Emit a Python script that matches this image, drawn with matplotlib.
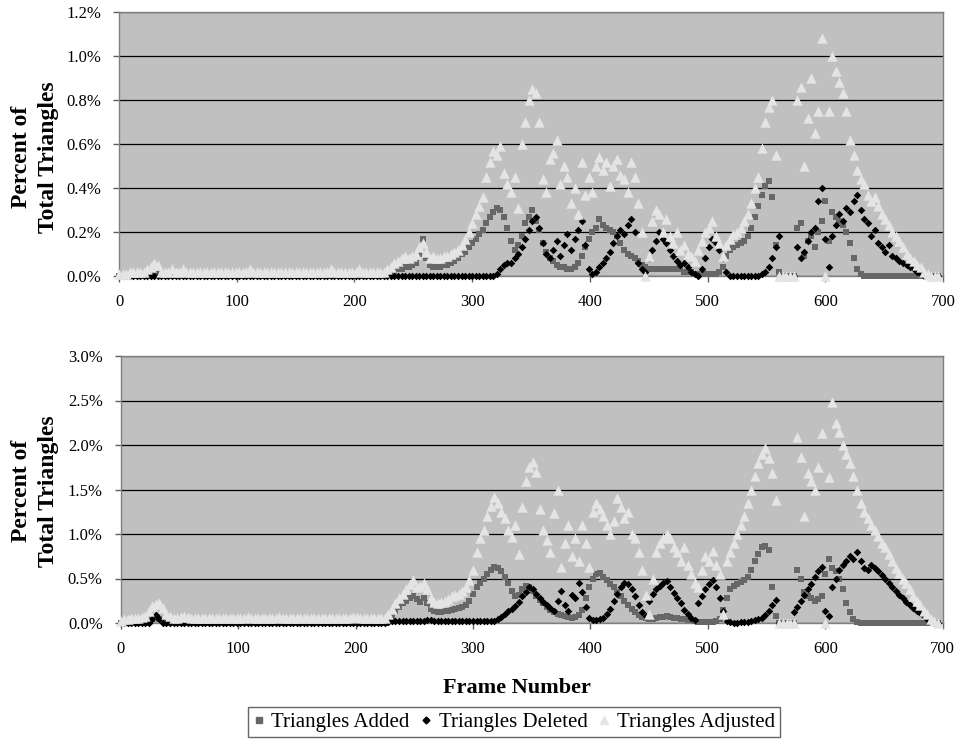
import numpy as np
import matplotlib
matplotlib.use('Agg')
import matplotlib.pyplot as plt
from matplotlib.lines import Line2D
from matplotlib.ticker import FuncFormatter, MultipleLocator

plt.rcParams['font.family'] = ['Liberation Serif', 'DejaVu Serif']

# frame numbers sampled every 3 frames (0..696)
frames = np.arange(0, 697, 3)

# ---- values in hundredths of a percent, one row = 10 samples (30 frames) ----
add_top = [
    0, 0, 0, 0, 0, 0, 0, 0, 0, 1,
    1, 1, 0, 0, 0, 0, 0, 0, 0, 0,
    0, 0, 0, 0, 0, 0, 0, 0, 0, 0,
    0, 0, 0, 0, 0, 0, 0, 0, 0, 0,
    0, 0, 0, 0, 0, 0, 0, 0, 0, 0,
    0, 0, 0, 0, 0, 0, 0, 0, 0, 0,
    0, 0, 0, 0, 0, 1, 0, 0, 0, 0,
    0, 0, 0, 0, 0, 0, 1, 2, 2, 3,
    3, 4, 4, 5, 6, 10, 17, 8, 5, 4,
    4, 4, 5, 5, 6, 7, 8, 10, 11, 13,
    15, 17, 19, 21, 24, 27, 29, 31, 30, 27,
    22, 16, 12, 14, 18, 24, 27, 30, 25, 21,
    15, 11, 8, 7, 5, 4, 4, 3, 3, 4,
    6, 9, 13, 17, 20, 22, 26, 23, 22, 21,
    20, 18, 15, 12, 10, 9, 8, 7, 5, 4,
    3, 3, 3, 3, 3, 3, 3, 3, 3, 3,
    2, 2, 2, 1, 1, 1, 1, 1, 1, 1,
    2, 4, 9, 12, 13, 14, 15, 16, 18, 22,
    27, 32, 37, 41, 43, 36, 14, 2, 0, 0,
    0, 0, 22, 24, 9, 16, 18, 13, 20, 25,
    34, 16, 29, 27, 25, 23, 20, 15, 8, 3,
    1, 0, 0, 0, 0, 0, 0, 0, 0, 0,
    0, 0, 0, 0, 0, 0, 0, 0, 0, 0,
    0, 0, 0]

del_top = [
    0, 0, 0, 0, 0, 0, 0, 0, 0, 0,
    0, 0, 0, 0, 0, 0, 0, 0, 0, 0,
    0, 0, 0, 0, 0, 0, 0, 0, 0, 0,
    0, 0, 0, 0, 0, 0, 0, 0, 0, 0,
    0, 0, 0, 0, 0, 0, 0, 0, 0, 0,
    0, 0, 0, 0, 0, 0, 0, 0, 0, 0,
    0, 0, 0, 0, 0, 0, 0, 0, 0, 0,
    0, 0, 0, 0, 0, 0, 0, 0, 0, 0,
    0, 0, 0, 0, 0, 0, 0, 0, 0, 0,
    0, 0, 0, 0, 0, 0, 0, 0, 0, 0,
    0, 0, 0, 0, 0, 0, 0, 1, 3, 5,
    6, 6, 8, 10, 13, 17, 21, 25, 27, 22,
    15, 10, 8, 12, 16, 9, 14, 19, 12, 17,
    21, 25, 14, 3, 1, 2, 4, 6, 8, 11,
    15, 18, 21, 19, 23, 26, 20, 6, 3, 2,
    8, 12, 16, 20, 17, 15, 12, 9, 7, 5,
    6, 4, 2, 1, 0, 3, 8, 13, 17, 15,
    12, 8, 2, 0, 0, 0, 0, 0, 0, 0,
    0, 0, 1, 2, 4, 8, 13, 18, 0, 0,
    0, 0, 13, 8, 11, 16, 20, 22, 34, 40,
    17, 4, 18, 23, 28, 25, 31, 29, 34, 37,
    30, 26, 24, 18, 21, 15, 13, 11, 14, 9,
    8, 7, 6, 5, 4, 3, 2, 1, 0, 0,
    0, 0, 0]

adj_top = [
    1, 1, 1, 2, 2, 2, 2, 2, 3, 4,
    6, 5, 2, 2, 2, 3, 2, 2, 3, 2,
    2, 2, 2, 2, 2, 2, 2, 2, 2, 2,
    2, 2, 2, 2, 2, 2, 2, 3, 2, 2,
    2, 2, 2, 2, 2, 2, 2, 2, 2, 2,
    2, 2, 2, 2, 2, 2, 2, 2, 2, 2,
    3, 2, 2, 2, 2, 2, 2, 2, 3, 2,
    2, 2, 2, 2, 2, 2, 3, 4, 6, 7,
    8, 9, 8, 9, 10, 13, 15, 11, 8, 9,
    8, 8, 9, 9, 10, 11, 12, 14, 17, 20,
    24, 28, 32, 36, 45, 52, 57, 55, 59, 47,
    42, 38, 45, 31, 60, 70, 80, 85, 83, 70,
    44, 38, 53, 56, 62, 42, 50, 45, 33, 40,
    28, 52, 37, 45, 38, 50, 54, 48, 52, 41,
    50, 53, 46, 44, 38, 52, 45, 33, 20, 0,
    9, 25, 30, 28, 20, 26, 18, 15, 20, 12,
    14, 10, 9, 7, 12, 16, 20, 22, 25, 18,
    15, 9, 14, 17, 19, 20, 22, 25, 28, 33,
    40, 45, 58, 70, 77, 80, 55, 0, 0, 0,
    0, 0, 80, 86, 50, 72, 90, 65, 75, 108,
    0, 75, 100, 93, 88, 83, 75, 62, 55, 48,
    44, 42, 37, 34, 36, 32, 28, 26, 23, 20,
    18, 16, 13, 10, 8, 7, 5, 4, 2, 1,
    0, 0, 0]

add_bot = [
    0, 0, 0, 0, 0, 0, 0, 0, 2, 5,
    7, 5, 2, 0, 0, 0, 0, 0, 0, 0,
    0, 0, 0, 0, 0, 0, 0, 0, 0, 0,
    0, 0, 0, 0, 0, 0, 0, 0, 0, 0,
    0, 0, 0, 0, 0, 0, 0, 0, 0, 0,
    0, 0, 0, 0, 0, 0, 0, 0, 0, 0,
    0, 0, 0, 0, 0, 0, 0, 0, 0, 0,
    0, 0, 0, 0, 0, 0, 3, 8, 14, 18,
    22, 25, 28, 30, 27, 24, 28, 22, 16, 13,
    12, 12, 13, 14, 15, 16, 17, 18, 20, 25,
    33, 40, 45, 50, 55, 60, 63, 62, 58, 52,
    45, 36, 30, 32, 38, 42, 40, 36, 30, 26,
    22, 18, 15, 12, 10, 9, 8, 7, 6, 7,
    9, 15, 28, 40, 50, 55, 56, 52, 48, 44,
    40, 35, 30, 25, 20, 16, 12, 9, 7, 6,
    5, 5, 6, 7, 7, 8, 7, 6, 6, 5,
    4, 3, 3, 2, 1, 1, 1, 1, 1, 2,
    5, 15, 28, 38, 42, 44, 46, 48, 52, 60,
    70, 78, 85, 86, 82, 40, 8, 0, 0, 0,
    0, 0, 60, 50, 35, 30, 28, 25, 27, 30,
    55, 72, 62, 58, 50, 38, 22, 12, 5, 1,
    0, 0, 0, 0, 0, 0, 0, 0, 0, 0,
    0, 0, 0, 0, 0, 0, 0, 0, 0, 0,
    0, 0, 0]

del_bot = [
    0, 0, 0, 0, 0, 0, 0, 0, 0, 4,
    9, 5, 0, 0, 0, 0, 0, 0, 0, 0,
    0, 0, 0, 0, 0, 0, 0, 0, 0, 0,
    0, 0, 0, 0, 0, 0, 0, 0, 0, 0,
    0, 0, 0, 0, 0, 0, 0, 0, 0, 0,
    0, 0, 0, 0, 0, 0, 0, 0, 0, 0,
    0, 0, 0, 0, 0, 0, 0, 0, 0, 0,
    0, 0, 0, 0, 0, 0, 1, 2, 2, 2,
    2, 2, 2, 2, 2, 2, 2, 3, 3, 2,
    2, 2, 2, 2, 2, 2, 2, 2, 2, 2,
    2, 2, 2, 2, 2, 2, 2, 4, 7, 10,
    13, 16, 19, 24, 30, 35, 40, 38, 33, 28,
    24, 20, 17, 13, 25, 36, 20, 14, 32, 28,
    45, 35, 18, 6, 3, 3, 4, 6, 10, 16,
    25, 33, 40, 45, 44, 38, 30, 20, 12, 8,
    25, 33, 38, 42, 45, 47, 40, 34, 28, 22,
    15, 10, 6, 3, 22, 30, 38, 44, 48, 40,
    28, 14, 2, 1, 0, 0, 1, 1, 1, 2,
    3, 4, 6, 9, 14, 20, 26, 0, 0, 0,
    0, 12, 18, 25, 32, 38, 44, 52, 58, 63,
    14, 8, 40, 50, 60, 65, 70, 75, 72, 80,
    70, 62, 60, 65, 62, 58, 54, 50, 45, 40,
    36, 32, 28, 24, 20, 17, 14, 11, 8, 5,
    2, 0, 0]

adj_bot = [
    2, 4, 5, 6, 6, 6, 7, 8, 14, 19,
    21, 22, 17, 10, 8, 6, 6, 7, 8, 7,
    6, 6, 6, 6, 6, 6, 6, 6, 6, 6,
    6, 6, 6, 6, 6, 6, 7, 6, 6, 6,
    6, 6, 6, 6, 6, 7, 6, 6, 6, 6,
    6, 6, 6, 6, 6, 6, 6, 6, 6, 6,
    6, 6, 6, 6, 6, 6, 7, 7, 6, 6,
    6, 6, 6, 6, 6, 6, 10, 16, 22, 28,
    33, 38, 44, 48, 40, 42, 45, 38, 28, 24,
    22, 24, 25, 27, 30, 32, 33, 36, 40, 48,
    60, 80, 95, 104, 120, 132, 142, 135, 125, 118,
    104, 97, 110, 78, 130, 160, 175, 181, 170, 128,
    104, 93, 80, 124, 150, 63, 90, 110, 75, 95,
    70, 110, 90, 63, 125, 135, 128, 120, 110, 100,
    115, 140, 130, 118, 125, 100, 95, 80, 60, 32,
    10, 50, 80, 90, 95, 100, 95, 85, 80, 70,
    85, 65, 55, 45, 40, 60, 75, 70, 81, 65,
    55, 10, 70, 80, 90, 100, 110, 120, 135, 150,
    165, 180, 190, 197, 185, 169, 138, 0, 0, 0,
    0, 0, 209, 187, 120, 169, 160, 150, 175, 213,
    0, 164, 248, 225, 215, 200, 190, 180, 165, 150,
    135, 125, 118, 110, 105, 98, 90, 85, 78, 70,
    62, 56, 50, 45, 38, 30, 25, 20, 14, 10,
    5, 2, 0]

series_names = ['Triangles Added', 'Triangles Deleted', 'Triangles Adjusted']
x_ticks = [0, 100, 200, 300, 400, 500, 600, 700]

C_ADD = '#676767'
C_DEL = '#000000'
C_ADJ = '#e4e4e4'
BG = '#c0c0c0'

fig = plt.figure(figsize=(9.56, 7.4), dpi=100)
ax1 = fig.add_axes([119 / 956, 1 - 276 / 740, 824 / 956, 264 / 740])
ax2 = fig.add_axes([120.7 / 956, 1 - 623 / 740, 822 / 956, 267 / 740])


def style(ax, ymax, ystep):
    ax.set_facecolor(BG)
    ax.set_xlim(0, 700)
    ax.set_ylim(0, ymax)
    ax.set_xticks(x_ticks)
    ax.yaxis.set_major_locator(MultipleLocator(ystep))
    ax.yaxis.set_major_formatter(FuncFormatter(lambda v, p: f'{v:.1f}%'))
    ax.grid(axis='y', color='black', lw=0.9)
    ax.grid(axis='x', visible=False)
    ax.set_axisbelow(True)
    for s in ax.spines.values():
        s.set_color('#808080')
        s.set_linewidth(1.0)
    ax.tick_params(axis='both', direction='out', length=4, color='#606060',
                   labelsize=12, width=1)
    ax.tick_params(axis='x', pad=9)
    ax.tick_params(axis='y', pad=9)


def draw(ax, add, dele, adj):
    f = frames
    ax.scatter(f, np.array(add) / 100.0, marker='s', s=19, color=C_ADD,
               linewidths=0, zorder=3, clip_on=False)
    ax.scatter(f, np.array(dele) / 100.0, marker='D', s=15, color=C_DEL,
               linewidths=0, zorder=4, clip_on=False)
    ax.scatter(f, np.array(adj) / 100.0, marker='^', s=56, color=C_ADJ,
               linewidths=0, zorder=5, clip_on=False)


style(ax1, 1.2, 0.2)
style(ax2, 3.0, 0.5)
draw(ax1, add_top, del_top, adj_top)
draw(ax2, add_bot, del_bot, adj_bot)

ylab = 'Percent of\nTotal Triangles'
fig.text(35 / 956, 1 - 157 / 740, ylab, rotation=90, ha='center', va='center',
         fontsize=17, fontweight='bold', linespacing=1.35)
fig.text(35 / 956, 1 - 491 / 740, ylab, rotation=90, ha='center', va='center',
         fontsize=17, fontweight='bold', linespacing=1.35)
fig.text(517 / 956, 1 - 688 / 740, 'Frame Number', ha='center', va='center',
         fontsize=16, fontweight='bold')

handles = [
    Line2D([], [], marker='s', color=C_ADD, linestyle='None', markersize=4),
    Line2D([], [], marker='D', color=C_DEL, linestyle='None', markersize=3.5),
    Line2D([], [], marker='^', color=C_ADJ, linestyle='None', markersize=6),
]
leg = fig.legend(handles, series_names, loc='upper center', ncol=3,
                 bbox_to_anchor=(514 / 956, 1 - 707 / 740), fontsize=15,
                 frameon=True, fancybox=False, edgecolor='#404040',
                 handlelength=0.5, handletextpad=0.35, columnspacing=0.55,
                 borderpad=0.25, borderaxespad=0)
leg.get_frame().set_linewidth(1.0)

fig.savefig('out.png', dpi=100, facecolor='white')
